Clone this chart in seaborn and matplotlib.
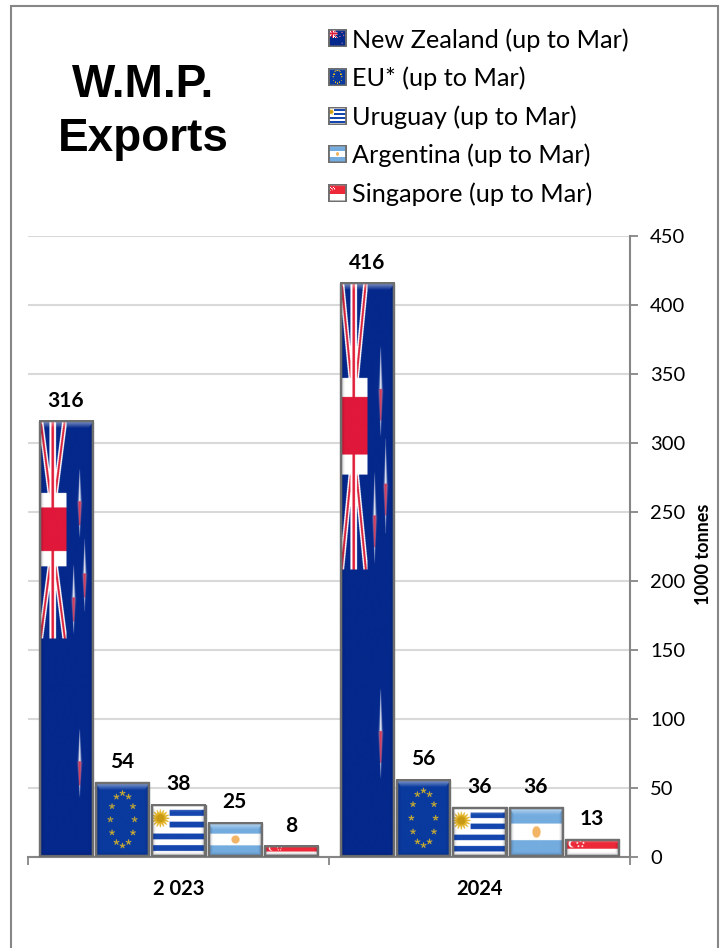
import numpy as np
import pandas as pd
import matplotlib
matplotlib.use("Agg")
import matplotlib.pyplot as plt
import seaborn as sns
from matplotlib.patches import Patch, Rectangle
from matplotlib.image import BboxImage
from matplotlib.transforms import Bbox, TransformedBbox
from matplotlib.legend_handler import HandlerBase

years = ["2 023", "2024"]
countries = ["New Zealand (up to Mar)", "EU* (up to Mar)", "Uruguay (up to Mar)",
             "Argentina (up to Mar)", "Singapore (up to Mar)"]
values_2023 = [316, 54, 38, 25, 8]
values_2024 = [416, 56, 36, 36, 13]
base_colors = ["#0a2a88", "#0a3a9e", "#ffffff", "#74acdf", "#ed2939"]
y_ticks = [0, 50, 100, 150, 200, 250, 300, 350, 400, 450]
title_text = "W.M.P.\nExports"
y_label = "1000 tonnes"

W, H = 726, 948
sns.set_theme(style="white")
plt.rcParams["font.family"] = ["Lato", "DejaVu Sans"]
GRAY = "#868686"


def hexrgb(c):
    return np.array(matplotlib.colors.to_rgb(c))


def paint(img, mask, col):
    m = mask[..., None] if mask.dtype != bool else mask[..., None].astype(float)
    img[:] = img * (1 - m) + hexrgb(col) * m


def seg_dist(X, Y, a, b):
    a, b = np.array(a, float), np.array(b, float)
    d = b - a
    t = np.clip(((X - a[0]) * d[0] + (Y - a[1]) * d[1]) / (d @ d), 0, 1)
    return np.hypot(X - a[0] - t * d[0], Y - a[1] - t * d[1])


def star_mask(X, Y, cx, cy, r):
    dx, dy = X - cx, Y - cy
    ang = np.arctan2(dx, -dy)
    rad = np.hypot(dx, dy)
    lim = r * (0.55 + 0.45 * np.cos(5 * ang))
    return rad < lim


def flag(idx, wpx, hpx, ss=4):
    w, h = int(round(wpx * ss)), max(int(round(hpx * ss)), 2)
    Xp, Yp = np.meshgrid((np.arange(w) + .5) / ss, (np.arange(h) + .5) / ss)
    U, V = Xp / wpx, Yp / hpx
    img = np.ones((h, w, 3))
    sc = min(wpx / 54, 1)
    if idx == 0:  # New Zealand
        img[:] = hexrgb("#05288c")
        jack = (V < .5) & (U < .5) & (U > .02)
        x = lambda u: u * wpx
        y = lambda v: v * hpx
        segs = [((.03, 0), (.20, .167)), ((.47, 0), (.30, .167)),
                ((.03, .5), (.20, .335)), ((.47, .5), (.30, .335))]
        for a, b in segs:
            d = seg_dist(Xp, Yp, (x(a[0]), y(a[1])), (x(b[0]), y(b[1])))
            paint(img, (d < 2.4 * sc) & jack, "#ffffff")
            paint(img, (d < 1.0 * sc) & jack, "#d8213a")
        paint(img, (U > .19) & (U < .31) & jack, "#ffffff")
        paint(img, (V > .167) & (V < .335) & jack, "#ffffff")
        paint(img, (U > .225) & (U < .275) & jack, "#e0203a")
        paint(img, (V > .2) & (V < .3) & jack, "#e0183a")
        for u0, v0 in [(.74, .19), (.83, .355), (.63, .41), (.74, .785)]:
            L = .085
            dv = np.abs(V - v0) / L
            s = 1.5 * sc * np.clip(1 - dv, 0.0, 1) ** 1.2 + 1e-3
            a = np.exp(-((Xp - u0 * wpx) / s) ** 2) * (dv < 1)
            paint(img, a, "#eef0f6")
            paint(img, a * (dv < .6) * ((V - v0) / L > -.05), "#d83050")
    elif idx == 1:  # EU
        img[:] = hexrgb("#0a3a9e")
        for k in range(12):
            t = k * np.pi / 6
            cx = wpx * .5 + wpx * .22 * np.sin(t)
            cy = hpx * .5 - hpx * .35 * np.cos(t)
            paint(img, star_mask(Xp, Yp, cx, cy, 3.0 * sc), "#f5c518")
    elif idx == 2:  # Uruguay
        stripe = np.floor(V * 9).astype(int)
        paint(img, stripe % 2 == 1, "#1446ae")
        paint(img, (U < .34) & (V < 5 / 9), "#ffffff")
        r = min(wpx * .17, hpx * .22)
        cx, cy = wpx * .17, hpx * .27
        rad = np.hypot(Xp - cx, Yp - cy)
        ang = np.arctan2(Yp - cy, Xp - cx)
        paint(img, rad < r * (.8 + .2 * np.cos(16 * ang)), "#e3b52a")
        paint(img, rad < r * .45, "#c99a14")
    elif idx == 3:  # Argentina
        img[:] = hexrgb("#74acdf")
        paint(img, (V > 1 / 3) & (V < 2 / 3), "#ffffff")
        cx, cy = wpx * .5, hpx * .5
        paint(img, np.hypot((Xp - cx) / (wpx * .075), (Yp - cy) / (hpx * .115)) < 1, "#f3b566")
    else:  # Singapore
        paint(img, V < .55, "#ed2939")
        cx, cy = wpx * .13, hpx * .27
        r = min(hpx * .2, wpx * .09)
        paint(img, np.hypot(Xp - cx, Yp - cy) < r, "#ffffff")
        paint(img, np.hypot(Xp - cx - r * .4, Yp - cy) < r * .85, "#ed2939")
        for k in range(5):
            t = k * 2 * np.pi / 5
            paint(img, np.hypot(Xp - (wpx * .28 + r * .9 * np.sin(t)),
                                Yp - (cy - r * .8 * np.cos(t))) < max(r * .25, .5), "#ffffff")
    # bevel: glossy top band, darker sides and bottom
    bv = min(8 * sc, hpx * .22)
    L_ = Xp
    R_ = wpx - Xp
    T_ = Yp
    B_ = hpx - Yp
    edge = np.minimum(np.minimum(L_, R_), B_)
    top = (T_ < bv) & (T_ < edge * 1.6 + .01)
    light = np.clip(1 - T_ / bv, 0, 1) * .6 * top
    img[:] = img * (1 - light[..., None]) + light[..., None]
    side = (edge < 5 * sc) & ~top
    shade = np.clip(1 - edge / (5 * sc), 0, 1) * .3 * side
    img[:] = img * (1 - shade[..., None]) + hexrgb("#000020") * shade[..., None]
    # frame
    bw = 2.2 * max(sc, .7)
    frame = np.minimum(np.minimum(L_, R_), np.minimum(T_, B_)) < bw
    img[frame] = hexrgb("#6f6f6f")
    return np.clip(img, 0, 1)


rows = [(yr, c, v) for yr, vals in zip(years, [values_2023, values_2024])
        for c, v in zip(countries, vals)]
df = pd.DataFrame(rows, columns=["year", "country", "value"])

fig = plt.figure(figsize=(W / 100, H / 100), dpi=100, facecolor="white")
ax = fig.add_axes([28 / W, 1 - 857 / H, (630 - 28) / W, (857 - 236) / H])
sns.barplot(data=df, x="year", y="value", hue="country", hue_order=countries,
            order=years, palette=base_colors, width=.935, gap=.04, dodge=True,
            edgecolor="#6f6f6f", linewidth=1.0, legend=False, ax=ax, zorder=3)
ax.set_xlim(-.5, 1.5)
ax.set_ylim(0, 450)
ax.set_xlabel("")

# flag textures and value labels, positioned from the bars themselves
for i, cont in enumerate(ax.containers):
    for bar in cont:
        (x0, y0), (x1, y1) = ax.transData.transform(
            [(bar.get_x(), 0), (bar.get_x() + bar.get_width(), bar.get_height())])
        ax.imshow(flag(i, x1 - x0, y1 - y0), aspect="auto", zorder=4,
                  extent=(bar.get_x(), bar.get_x() + bar.get_width(), 0, bar.get_height()),
                  interpolation="antialiased")
    ax.bar_label(cont, fmt="%d", padding=7.5, fontsize=15, fontweight="bold",
                 color="black", zorder=6)
ax.set_xlim(-.5, 1.5)
ax.set_ylim(0, 450)
ax.set_aspect("auto")

# axes
ax.yaxis.tick_right()
ax.yaxis.set_label_position("right")
ax.set_yticks(y_ticks)
ax.set_yticklabels([str(t) for t in y_ticks], fontsize=14.5, color="black")
ax.grid(axis="y", color="#d9d9d9", lw=1.5, zorder=0)
ax.set_axisbelow(True)
ax.tick_params(axis="y", direction="out", length=5.5, width=1.3, color=GRAY, pad=9, right=True, left=False)
ax.set_xticks([-.5, .5, 1.5], minor=True)
ax.tick_params(axis="x", which="minor", direction="out", length=5.5, width=1.3, color=GRAY, bottom=True)
ax.tick_params(axis="x", which="major", length=0, pad=16, bottom=False)
for t in ax.get_xticklabels():
    t.set_fontsize(14.5)
    t.set_fontweight("bold")
    t.set_color("black")
for s in ["top", "left"]:
    ax.spines[s].set_visible(False)
for s in ["right", "bottom"]:
    ax.spines[s].set_color(GRAY)
    ax.spines[s].set_linewidth(1.5)
ax.set_ylabel(y_label, fontsize=13, fontweight="bold", color="black")
ax.yaxis.set_label_coords((695 - 28) / (630 - 28), (857 - 554) / (857 - 236))

# frame of the chart area
fig.add_artist(Rectangle((10.5 / W, -.05), (717.5 - 10.5) / W, 1.05 - 6 / H,
                         transform=fig.transFigure, fill=False, ec=GRAY, lw=1.5))

# title
fig.text(143 / W, 1 - 112 / H, title_text, ha="center", va="center", fontsize=33,
         fontweight="bold", color="black", family="Liberation Sans", linespacing=1.27)


# legend with flag keys
class FlagHandler(HandlerBase):
    def create_artists(self, legend, orig, xd, yd, width, height, fontsize, trans):
        idx = countries.index(orig.get_label())
        bb = TransformedBbox(Bbox([[-xd, -yd + height / 2 - 6.3], [-xd + 13.6, -yd + height / 2 + 6.3]]), trans)
        im = BboxImage(bb, interpolation="antialiased")
        im.set_data(flag(idx, 18, 18))
        return [im]


handles = [Patch(label=c, facecolor=col) for c, col in zip(countries, base_colors)]
leg = fig.legend(handles=handles, handler_map={Patch: FlagHandler()}, loc="upper left",
                 bbox_to_anchor=(328 / W, 1 - 28 / H), frameon=False, fontsize=18.2,
                 labelspacing=.59, handlelength=.72, handletextpad=.22, borderpad=0,
                 borderaxespad=0, labelcolor="black")

fig.savefig("out.png", dpi=100, facecolor="white")
